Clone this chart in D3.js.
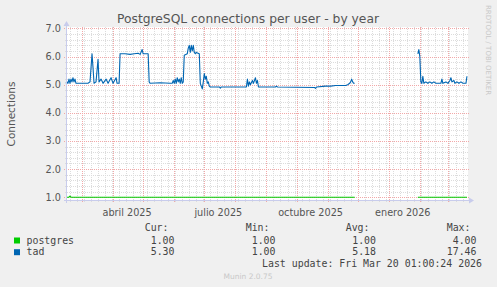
<!DOCTYPE html>
<html>
<head>
<meta charset="utf-8">
<script src="https://cdn.jsdelivr.net/npm/d3@7"></script>
<style>
  body { margin: 0; background: #f0f0f0; }
  svg { display: block; }
</style>
</head>
<body>
<svg id="chart" width="497" height="287"></svg>
<script>
// tad connections (daily), null = no data
const tadDates = [
    "2025-02-13","2025-02-14","2025-02-15","2025-02-16","2025-02-17","2025-02-18","2025-02-19",
    "2025-02-20","2025-02-21","2025-02-22","2025-02-23","2025-03-07","2025-03-09","2025-03-11",
    "2025-03-12","2025-03-13","2025-03-15","2025-03-17","2025-03-18","2025-03-20","2025-03-22",
    "2025-03-25","2025-03-27","2025-03-30","2025-04-01","2025-04-04","2025-04-05","2025-04-07",
    "2025-04-08","2025-04-13","2025-04-18","2025-04-22","2025-04-26","2025-04-28","2025-04-30",
    "2025-05-01","2025-05-06","2025-05-07","2025-05-08","2025-05-18","2025-05-28","2025-05-30",
    "2025-05-31","2025-06-01","2025-06-02","2025-06-03","2025-06-04","2025-06-05","2025-06-06",
    "2025-06-07","2025-06-08","2025-06-09","2025-06-10","2025-06-11","2025-06-14","2025-06-15",
    "2025-06-16","2025-06-17","2025-06-18","2025-06-19","2025-06-20","2025-06-21","2025-06-22",
    "2025-06-23","2025-06-26","2025-06-27","2025-06-28","2025-06-29","2025-06-30","2025-07-01",
    "2025-07-02","2025-07-03","2025-07-04","2025-07-05","2025-07-06","2025-07-07","2025-07-16",
    "2025-07-17","2025-07-18","2025-08-12","2025-08-13","2025-08-14","2025-08-15","2025-08-16",
    "2025-08-18","2025-08-19","2025-08-21","2025-08-22","2025-08-23","2025-08-24","2025-09-10",
    "2025-09-11","2025-09-12","2025-10-19","2025-10-20","2025-10-21","2025-10-30","2025-11-04",
    "2025-11-09","2025-11-14","2025-11-19","2025-11-21","2025-11-23","2025-11-24","2025-11-25",
    "2025-11-26","2025-11-27","2025-11-28","2025-11-29","2026-01-29","2026-01-30","2026-01-31",
    "2026-02-01","2026-02-02","2026-02-03","2026-02-04","2026-02-05","2026-02-07","2026-02-09",
    "2026-02-11","2026-02-13","2026-02-15","2026-02-17","2026-02-22","2026-02-23","2026-02-24",
    "2026-02-27","2026-03-01","2026-03-03","2026-03-04","2026-03-05","2026-03-07","2026-03-08",
    "2026-03-10","2026-03-12","2026-03-14","2026-03-16","2026-03-19","2026-03-20"
];
const tadValues = [
    5.05,5.1,5.05,5.2,5.05,5.2,5.1,
    5.25,5.1,5.2,5.05,5.05,5.1,6.1,
    5.6,5.05,5.1,5.9,5.1,5.2,5.05,
    5.2,5.05,5.25,5.05,5.25,5.05,5.05,
    6.1,6.1,6.08,6.1,6.12,6.08,6.25,
    6.1,6.1,5.1,5.05,5.07,5.05,5.05,
    5.15,5.05,5.2,5.05,5.25,5.1,5.2,
    5.05,5.25,5.05,5.1,6.05,6.1,6.3,
    6.4,6.15,6.4,6.2,6.4,6.15,6.1,
    6.15,6.1,5.05,4.95,4.85,5.1,5.4,
    5.2,5.3,5.05,5.1,4.95,4.92,4.92,
    4.88,4.92,4.92,5.2,4.95,5.1,5.0,
    5.15,5.05,5.25,5.05,5.15,4.92,4.92,
    4.95,4.92,4.9,4.87,4.92,4.95,4.95,
    4.97,4.97,4.97,5.0,5.05,5.1,5.2,
    5.1,5.05,5.05,null,null,6.1,6.25,
    6.0,5.1,5.05,5.3,5.05,5.1,5.05,
    5.1,5.05,5.1,5.05,5.05,5.2,5.05,
    5.1,5.05,5.15,5.25,5.1,5.15,5.05,
    5.1,5.05,5.1,5.05,5.05,5.3
];

// postgres connections
const pgDates = ["2025-02-13","2025-02-16","2025-02-17","2025-02-18","2025-11-28","2025-11-29","2026-01-29","2026-01-30","2026-03-20"];
const pgValues = [1.0, 1.0, 1.04, 1.0, 1.0, null, null, 1.0, 1.0];

const yTicks = [1, 2, 3, 4, 5, 6, 7];
const xLabelDates = ["2025-04-15", "2025-07-15", "2025-10-15", "2026-01-15"];
const xLabels = ["abril 2025", "julio 2025", "octubre 2025", "enero 2026"];

const legendNames = ["postgres", "tad"];
const legendColors = ["#00cc00", "#0066b3"];
const statCur = ["1.00", "5.30"];
const statMin = ["1.00", "1.00"];
const statAvg = ["1.00", "5.18"];
const statMax = ["4.00", "17.46"];

const startTime = new Date("2025-02-13T01:00:00Z");
const endTime = new Date("2026-03-20T01:00:00Z");

draw = function() {
    const svg = d3.select("svg#chart");

    let plot = { left: 67, right: 468, top: 27, bottom: 200 };

    let x = d3.scaleUtc()
        .domain([startTime, endTime])
        .range([plot.left - 1, plot.right - 1]);

    let y = d3.scaleLinear()
        .domain([0.9, 7.053])
        .range([plot.bottom, plot.top]);

    // white canvas
    svg.append("rect")
        .attr("x", plot.left)
        .attr("y", plot.top)
        .attr("width", plot.right - plot.left)
        .attr("height", plot.bottom - plot.top)
        .attr("fill", "#ffffff");

    let grid = svg.append("g").attr("id", "grid");
    let minorColor = "#dcdcdc";
    let majorColor = "#f2a8a8";

    // minor grid: weeks and 0.2 steps
    let weeks = d3.utcMonday.range(startTime, endTime);
    grid.selectAll("line.vminor")
        .data(weeks)
        .enter()
        .append("line")
        .attr("x1", d => Math.round(x(d)) + 0.5)
        .attr("x2", d => Math.round(x(d)) + 0.5)
        .attr("y1", plot.top)
        .attr("y2", plot.bottom + 2)
        .attr("stroke", minorColor)
        .attr("stroke-dasharray", "1,1");

    let minorY = d3.range(1, 7.01, 0.2).filter(v => Math.abs(v - Math.round(v)) > 0.01);
    grid.selectAll("line.hminor")
        .data(minorY)
        .enter()
        .append("line")
        .attr("x1", plot.left - 2)
        .attr("x2", plot.right + 1)
        .attr("y1", d => Math.round(y(d)) + 0.5)
        .attr("y2", d => Math.round(y(d)) + 0.5)
        .attr("stroke", minorColor)
        .attr("stroke-dasharray", "1,1");

    // major grid: months and whole numbers
    let months = d3.utcMonth.range(startTime, endTime);
    grid.selectAll("line.vmajor")
        .data(months)
        .enter()
        .append("line")
        .attr("x1", d => Math.round(x(d)) + 0.5)
        .attr("x2", d => Math.round(x(d)) + 0.5)
        .attr("y1", plot.top)
        .attr("y2", plot.bottom + 3)
        .attr("stroke", majorColor)
        .attr("stroke-dasharray", "1,1");

    grid.selectAll("line.hmajor")
        .data(yTicks)
        .enter()
        .append("line")
        .attr("x1", plot.left - 3)
        .attr("x2", plot.right + 2)
        .attr("y1", d => Math.round(y(d)) + 0.5)
        .attr("y2", d => Math.round(y(d)) + 0.5)
        .attr("stroke", majorColor)
        .attr("stroke-dasharray", "1,1");

    // lines
    let line = d3.line()
        .defined(d => d.value !== null)
        .x(d => x(d.date))
        .y(d => y(d.value));

    let series = [
        { dates: pgDates, values: pgValues, color: legendColors[0] },
        { dates: tadDates, values: tadValues, color: legendColors[1] }
    ];

    series.forEach(function(s) {
        let points = s.dates.map((dt, i) => ({ date: new Date(dt + "T00:00:00Z"), value: s.values[i] }));
        svg.append("path")
            .attr("d", line(points))
            .attr("fill", "none")
            .attr("stroke", s.color)
            .attr("stroke-width", 1.1)
            .attr("stroke-linejoin", "round");
    });

    // axes with arrows
    let axisColor = "#c8ccec";
    svg.append("line")
        .attr("x1", plot.left - 0.5).attr("x2", plot.left - 0.5)
        .attr("y1", plot.top - 2).attr("y2", plot.bottom + 3)
        .attr("stroke", axisColor);
    svg.append("line")
        .attr("x1", plot.left - 3).attr("x2", plot.right + 1)
        .attr("y1", plot.bottom + 0.5).attr("y2", plot.bottom + 0.5)
        .attr("stroke", axisColor);
    svg.append("path")
        .attr("d", "M" + (plot.left - 3.5) + "," + (plot.top - 1) + "L" + (plot.left - 0.5) + "," + (plot.top - 6) + "L" + (plot.left + 2.5) + "," + (plot.top - 1) + "Z")
        .attr("fill", axisColor);
    svg.append("path")
        .attr("d", "M" + (plot.right + 1) + "," + (plot.bottom - 2.5) + "L" + (plot.right + 6) + "," + (plot.bottom + 0.5) + "L" + (plot.right + 1) + "," + (plot.bottom + 3.5) + "Z")
        .attr("fill", axisColor);

    // tick labels
    svg.append("g")
        .selectAll("text")
        .data(yTicks)
        .enter()
        .append("text")
        .attr("x", 61)
        .attr("y", d => y(d) + 3.5)
        .attr("text-anchor", "end")
        .attr("font-family", "DejaVu Sans")
        .attr("font-size", "9.7px")
        .attr("fill", "#555")
        .text(d => d.toFixed(1));

    svg.append("g")
        .selectAll("text")
        .data(xLabelDates)
        .enter()
        .append("text")
        .attr("x", d => x(new Date(d + "T00:00:00Z")))
        .attr("y", 216)
        .attr("text-anchor", "middle")
        .attr("font-family", "DejaVu Sans")
        .attr("font-size", "9.7px")
        .attr("fill", "#555")
        .text((d, i) => xLabels[i]);

    // title and side texts
    svg.append("text")
        .attr("x", 248)
        .attr("y", 23)
        .attr("text-anchor", "middle")
        .attr("font-family", "DejaVu Sans")
        .attr("font-size", "12.3px")
        .attr("fill", "#555")
        .text("PostgreSQL connections per user - by year");

    svg.append("text")
        .attr("transform", "translate(15,114) rotate(-90)")
        .attr("text-anchor", "middle")
        .attr("font-family", "DejaVu Sans")
        .attr("font-size", "10.5px")
        .attr("fill", "#555")
        .text("Connections");

    svg.append("text")
        .attr("transform", "translate(486,5) rotate(90)")
        .attr("font-family", "DejaVu Sans")
        .attr("font-size", "7px")
        .attr("fill", "#c8c8c8")
        .text("RRDTOOL / TOBI OETIKER");

    // legend
    let mono = "DejaVu Sans Mono";
    let legend = svg.append("g").attr("id", "legend")
        .attr("font-family", mono)
        .attr("font-size", "9.9px")
        .attr("fill", "#444");

    let headerX = [168.5, 269.5, 369.5, 470.5];
    let valueX = [174.5, 275.5, 376, 476.5];
    let headers = ["Cur:", "Min:", "Avg:", "Max:"];
    let stats = [statCur, statMin, statAvg, statMax];

    headers.forEach(function(h, i) {
        legend.append("text")
            .attr("x", headerX[i])
            .attr("y", 231)
            .attr("text-anchor", "end")
            .text(h);
    });

    legendNames.forEach(function(name, r) {
        let rowY = 243.5 + r * 11.7;
        legend.append("rect")
            .attr("x", 14)
            .attr("y", rowY - 6)
            .attr("width", 6)
            .attr("height", 6)
            .attr("fill", legendColors[r]);
        legend.append("text")
            .attr("x", 26.5)
            .attr("y", rowY)
            .text(name);
        stats.forEach(function(col, i) {
            legend.append("text")
                .attr("x", valueX[i])
                .attr("y", rowY)
                .attr("text-anchor", "end")
                .text(col[r]);
        });
    });

    legend.append("text")
        .attr("x", 482)
        .attr("y", 266.5)
        .attr("text-anchor", "end")
        .text("Last update: Fri Mar 20 01:00:24 2026");

    svg.append("text")
        .attr("x", 248)
        .attr("y", 279)
        .attr("text-anchor", "middle")
        .attr("font-family", "DejaVu Sans")
        .attr("font-size", "7.5px")
        .attr("fill", "#c8c8c8")
        .text("Munin 2.0.75");
}

draw();
</script>
</body>
</html>
